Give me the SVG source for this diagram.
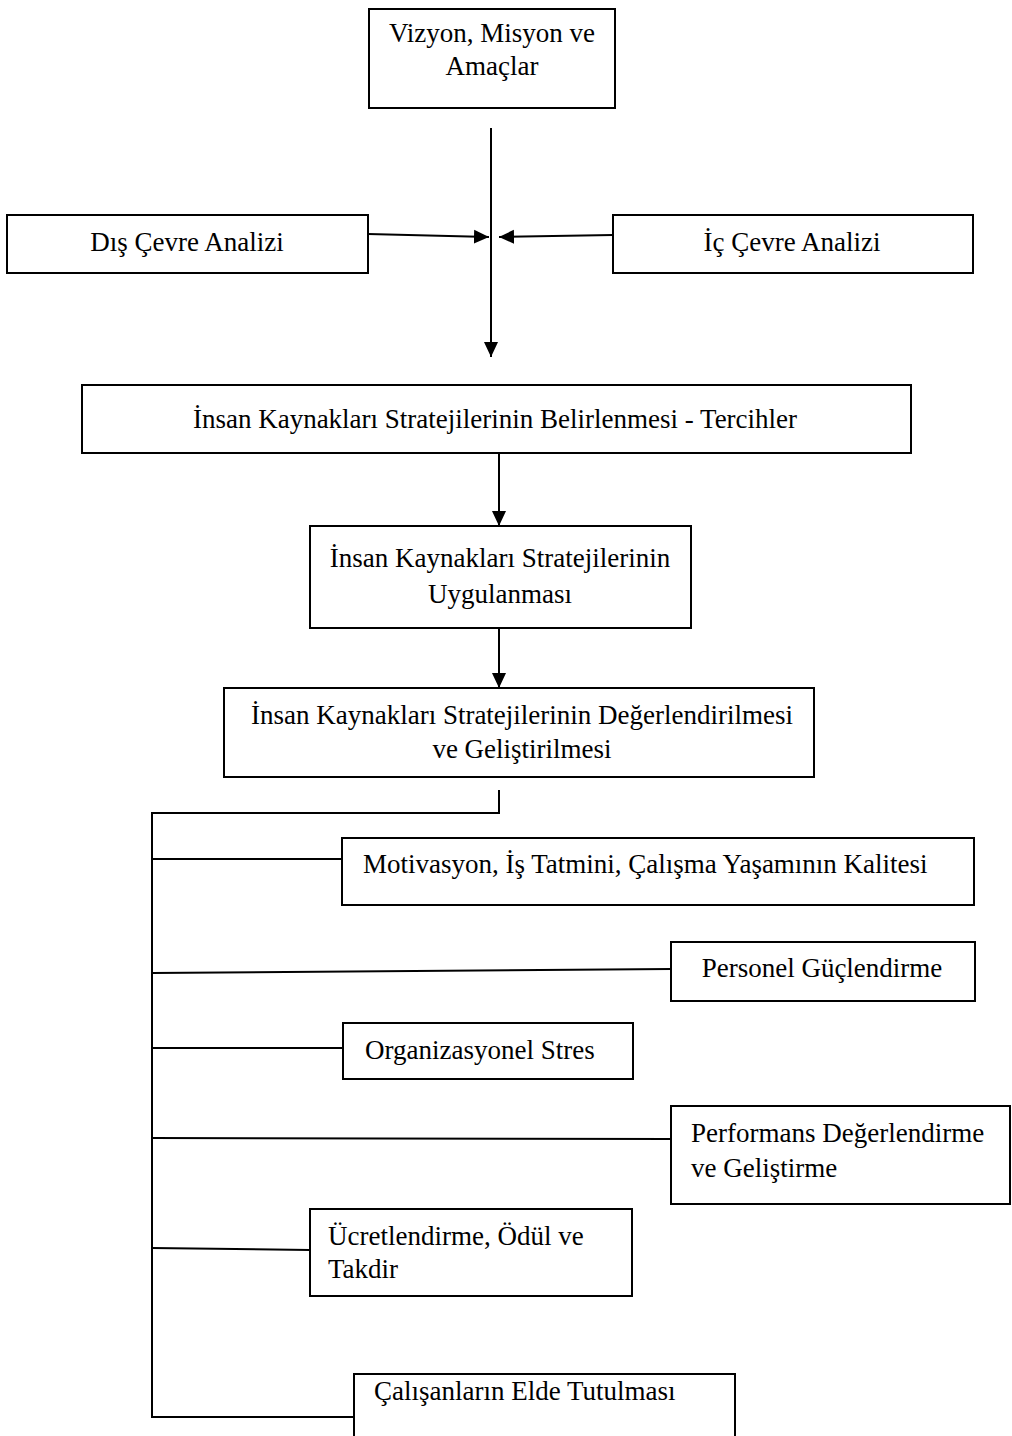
<svg xmlns="http://www.w3.org/2000/svg" width="1012" height="1436" viewBox="0 0 1012 1436">
<style>
  .box { fill: #ffffff; stroke: #000000; stroke-width: 2; }
  .t { font-family: "Liberation Serif", "Times New Roman", serif; font-size: 27px; fill: #000000; }
  .c { text-anchor: middle; }
  .ln { fill: none; stroke: #000000; stroke-width: 2; }
</style>
<defs>
  <marker id="ah" markerUnits="userSpaceOnUse" markerWidth="16" markerHeight="16" viewBox="0 -8 16 16" refX="15" refY="0" orient="auto">
    <path d="M0,-7 L15,0 L0,7 z" fill="#000000"/>
  </marker>
</defs>
<rect width="1012" height="1436" fill="#ffffff"/>

<g id="connectors">
  <line class="ln" x1="491" y1="128" x2="491" y2="357" marker-end="url(#ah)"/>
  <line class="ln" x1="368" y1="234" x2="489" y2="237" marker-end="url(#ah)"/>
  <line class="ln" x1="613" y1="235" x2="499" y2="237" marker-end="url(#ah)"/>
  <line class="ln" x1="499" y1="453" x2="499" y2="526" marker-end="url(#ah)"/>
  <line class="ln" x1="499" y1="628" x2="499" y2="688" marker-end="url(#ah)"/>
  <polyline class="ln" points="499,790 499,813 152,813 152,1417 354,1417"/>
  <line class="ln" x1="152" y1="859" x2="342" y2="859"/>
  <line class="ln" x1="152" y1="973" x2="671" y2="969"/>
  <line class="ln" x1="152" y1="1048" x2="343" y2="1048"/>
  <line class="ln" x1="152" y1="1138" x2="671" y2="1139"/>
  <line class="ln" x1="152" y1="1248" x2="310" y2="1250"/>
</g>

<g id="n-vizyon">
  <rect class="box" x="369" y="9" width="246" height="99"/>
  <text class="t c" x="492" y="42">Vizyon, Misyon ve</text>
  <text class="t c" x="492" y="75">Amaçlar</text>
</g>
<g id="n-dis">
  <rect class="box" x="7" y="215" width="361" height="58"/>
  <text class="t c" x="187" y="251">Dış Çevre Analizi</text>
</g>
<g id="n-ic">
  <rect class="box" x="613" y="215" width="360" height="58"/>
  <text class="t c" x="792" y="251">İç Çevre Analizi</text>
</g>
<g id="n-belirlenmesi">
  <rect class="box" x="82" y="385" width="829" height="68"/>
  <text class="t c" x="495" y="428">İnsan Kaynakları Stratejilerinin Belirlenmesi - Tercihler</text>
</g>
<g id="n-uygulanmasi">
  <rect class="box" x="310" y="526" width="381" height="102"/>
  <text class="t c" x="500" y="567">İnsan Kaynakları Stratejilerinin</text>
  <text class="t c" x="500" y="603">Uygulanması</text>
</g>
<g id="n-degerlendirilmesi">
  <rect class="box" x="224" y="688" width="590" height="89"/>
  <text class="t c" x="522" y="724">İnsan Kaynakları Stratejilerinin Değerlendirilmesi</text>
  <text class="t c" x="522" y="758">ve Geliştirilmesi</text>
</g>
<g id="n-motivasyon">
  <rect class="box" x="342" y="838" width="632" height="67"/>
  <text class="t" x="363" y="873">Motivasyon, İş Tatmini, Çalışma Yaşamının Kalitesi</text>
</g>
<g id="n-personel">
  <rect class="box" x="671" y="942" width="304" height="59"/>
  <text class="t c" x="822" y="977">Personel Güçlendirme</text>
</g>
<g id="n-stres">
  <rect class="box" x="343" y="1023" width="290" height="56"/>
  <text class="t" x="365" y="1059">Organizasyonel Stres</text>
</g>
<g id="n-performans">
  <rect class="box" x="671" y="1106" width="339" height="98"/>
  <text class="t" x="691" y="1142">Performans Değerlendirme</text>
  <text class="t" x="691" y="1177">ve Geliştirme</text>
</g>
<g id="n-ucret">
  <rect class="box" x="310" y="1209" width="322" height="87"/>
  <text class="t" x="328" y="1245">Ücretlendirme, Ödül ve</text>
  <text class="t" x="328" y="1278">Takdir</text>
</g>
<g id="n-calisanlar">
  <rect class="box" x="354" y="1374" width="381" height="70"/>
  <text class="t" x="374" y="1400">Çalışanların Elde Tutulması</text>
</g>
</svg>
